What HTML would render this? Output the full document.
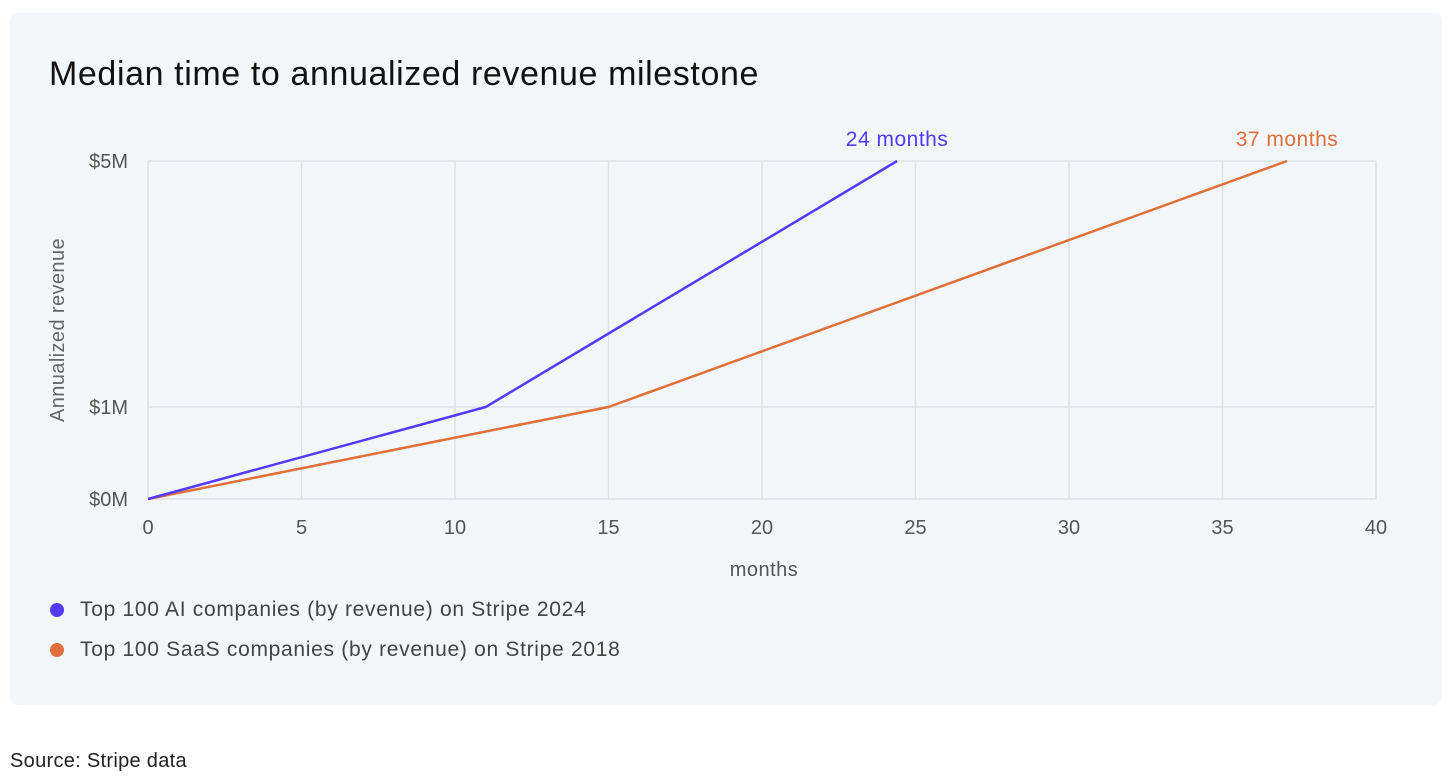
<!DOCTYPE html>
<html><head><meta charset="utf-8"><style>
body{margin:0;background:#fff;font-family:"Liberation Sans",sans-serif;width:1456px;height:782px;overflow:hidden;position:relative}
.card{position:absolute;left:10px;top:13px;width:1432px;height:692px;background:#f4f7fa;border-radius:8px}
.title{position:absolute;left:49px;top:55px;font-size:34px;letter-spacing:0.6px;color:#111}
.src{position:absolute;left:10px;top:750px;font-size:20px;letter-spacing:0.3px;color:#222}
svg{position:absolute;left:0;top:0}
.leg{position:absolute;left:50px;font-size:21px;letter-spacing:0.7px;color:#444}
.leg span{display:inline-block;width:14px;height:14px;border-radius:50%;margin-right:16px;vertical-align:-1px}
</style></head><body>
<div class="card"></div>
<div class="title">Median time to annualized revenue milestone</div>
<svg id="c" width="1456" height="782"></svg>
<div class="leg" style="top:598px"><span style="background:#533afd"></span>Top 100 AI companies (by revenue) on Stripe 2024</div>
<div class="leg" style="top:638px"><span style="background:#e0703a"></span>Top 100 SaaS companies (by revenue) on Stripe 2018</div>
<div class="src">Source: Stripe data</div>
<script>
const xTicks=[0,5,10,15,20,25,30,35,40];
const yTicks=[0,1,5];
const yTickLabels=["$0M","$1M","$5M"];
const aiMonths=[0,11,24.4];
const aiValues=[0,1,5];
const saasMonths=[0,15,37.1];
const saasValues=[0,1,5];
const endLabels=["24 months","37 months"];
const svg=document.getElementById('c');const NS="http://www.w3.org/2000/svg";
function X(m){return 148+m*(1376-148)/40;}
const yPix=[499,407,161];
function Y(v){for(let i=0;i<yTicks.length-1;i++){if(v<=yTicks[i+1]){const t=(v-yTicks[i])/(yTicks[i+1]-yTicks[i]);return yPix[i]+t*(yPix[i+1]-yPix[i]);}}return yPix[yPix.length-1];}
function el(t,a,txt){const e=document.createElementNS(NS,t);for(const k in a)e.setAttribute(k,a[k]);if(txt!=null)e.textContent=txt;svg.appendChild(e);return e;}
xTicks.forEach(m=>{const g=el('line',{x1:X(m),x2:X(m),y1:161,y2:499,stroke:'#dde2e8','stroke-width':1.5});

const t=el('text',{x:X(m),y:534,'text-anchor':'middle','font-size':20,fill:'#555'},m);
});
yTicks.forEach((v,i)=>{const g=el('line',{x1:148,x2:1376,y1:Y(v),y2:Y(v),stroke:'#dde2e8','stroke-width':1.5});

const t=el('text',{x:128,y:Y(v)+7,'text-anchor':'end','font-size':20,fill:'#555'},yTickLabels[i]);
});
let a=el('text',{x:764,y:576,'text-anchor':'middle','font-size':20,fill:'#555','letter-spacing':0.5},'months');

a=el('text',{x:0,y:0,transform:'translate(64,330) rotate(-90)','text-anchor':'middle','font-size':20,fill:'#666','letter-spacing':0.4},'Annualized revenue');

function series(ms,vs,col,name,lab){const p=ms.map((m,i)=>X(m)+','+Y(vs[i])).join(' ');
const l=el('polyline',{points:p,fill:'none',stroke:col,'stroke-width':2.5,'stroke-linejoin':'round'});

const n=ms.length-1;const t=el('text',{x:X(ms[n]),y:Y(vs[n])-15,'text-anchor':'middle','font-size':21,fill:col,'letter-spacing':0.5},lab);
}
series(saasMonths,saasValues,'#e0703a','saas-line',endLabels[1]);
series(aiMonths,aiValues,'#533afd','ai-line',endLabels[0]);
</script>
</body></html>
